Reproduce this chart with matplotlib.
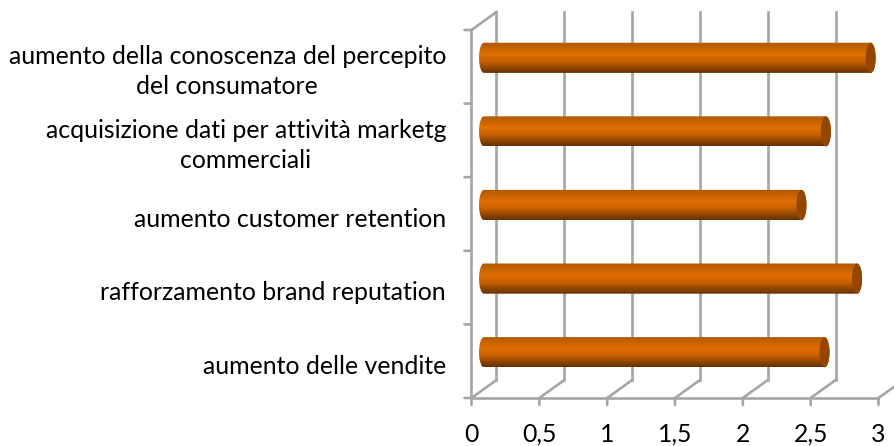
import numpy as np
import matplotlib
matplotlib.use('Agg')
import matplotlib.pyplot as plt
from matplotlib.path import Path
from matplotlib.patches import PathPatch, Ellipse
from matplotlib.colors import LinearSegmentedColormap
from matplotlib.transforms import offset_copy

plt.rcParams['font.family'] = ['Lato', 'DejaVu Sans']

# top to bottom, as in the picture
categories = ['aumento della conoscenza del percepito\ndel consumatore',
              'acquisizione dati per attività marketg\ncommerciali',
              'aumento customer retention',
              'rafforzamento brand reputation',
              'aumento delle vendite']
values = [2.85, 2.52, 2.34, 2.75, 2.51]
xticks = [0, 0.5, 1, 1.5, 2, 2.5, 3]
xticklabels = ['0', '0,5', '1', '1,5', '2', '2,5', '3']

W, H = 895, 446
fig = plt.figure(figsize=(W / 100, H / 100), dpi=100)
# front plane of the fake 3d box
ax = fig.add_axes([471.5 / W, 1 - 398 / H, 407 / W, 368 / H])
ax.set_xlim(0, 3)
ax.set_ylim(5, 0)
ax.axis('off')

grey = '#A6A6A6'
lw = 1.9
back = offset_copy(ax.transData, fig=fig, x=25, y=18, units='dots')
mid = offset_copy(ax.transData, fig=fig, x=12.5, y=9, units='dots')


def depth_line(x, y):
    # line from front plane to back plane, in pixels on top of data position
    px, py = ax.transData.transform((x, y))
    ax.plot([px, px + 25], [py, py + 18], transform=None, color=grey, lw=lw,
            clip_on=False, zorder=1)


# back wall gridlines and floor
for t in xticks:
    ax.plot([t, t], [5, 0], transform=back, color=grey, lw=lw, clip_on=False, zorder=1)
    depth_line(t, 5)
depth_line(0, 0)

# front axes
ax.plot([0, 0], [0, 5], color=grey, lw=lw, clip_on=False, zorder=1)
ax.plot([0, 3], [5, 5], color=grey, lw=lw, clip_on=False, zorder=1)
for i in range(6):
    ax.annotate('', xy=(0, i), xytext=(-7, 0), textcoords='offset pixels',
                arrowprops=dict(arrowstyle='-', color=grey, lw=lw, shrinkA=0, shrinkB=0))
for t in xticks:
    ax.annotate('', xy=(t, 5), xytext=(0, -7), textcoords='offset pixels',
                arrowprops=dict(arrowstyle='-', color=grey, lw=lw, shrinkA=0, shrinkB=0))

# cylinders
cyl = LinearSegmentedColormap.from_list('cyl', [(0, '#AE5900'), (0.4, '#E06E00'), (0.62, '#C86200'),
                                                (0.85, '#8C4400'), (1, '#663000')])
grad = np.linspace(0, 1, 64).reshape(-1, 1)
bar_h = 0.41
rx = 5 / (407 / 3)
t_arc = np.linspace(-np.pi / 2, np.pi / 2, 40)
for i, v in enumerate(values):
    yc = i + 0.5
    ry = bar_h / 2
    xs = np.concatenate([v + rx * np.cos(t_arc), -rx * np.cos(t_arc[::-1])])
    ys = np.concatenate([yc + ry * np.sin(t_arc), yc + ry * np.sin(t_arc[::-1])])
    verts = np.column_stack([xs, ys])
    patch = PathPatch(Path(np.vstack([verts, verts[0]])), transform=mid, fc='none', ec='none')
    ax.add_patch(patch)
    im = ax.imshow(grad, cmap=cyl, aspect='auto', extent=(-rx, v + rx, yc + ry, yc - ry),
                   transform=mid, zorder=3, interpolation='bilinear')
    im.set_clip_path(patch)
    ax.add_patch(Ellipse((v, yc), 2 * rx, 2 * ry, transform=mid, fc='#944600', ec='none', zorder=4))
ax.set_xlim(0, 3)
ax.set_ylim(5, 0)

# labels
for i, c in enumerate(categories):
    px = ax.transData.transform((0, i + 0.5))
    ax.text(446, px[1] - 5, c, transform=None, ha='right', va='center', multialignment='center',
            fontsize=17.9, linespacing=1.35, color='black')
for t, l in zip(xticks, xticklabels):
    ax.text(t, 5, l, transform=offset_copy(ax.transData, fig=fig, x=0, y=-36, units='dots'),
            ha='center', va='center', fontsize=17.9, color='black', clip_on=False)

fig.savefig('out.png', dpi=100)
